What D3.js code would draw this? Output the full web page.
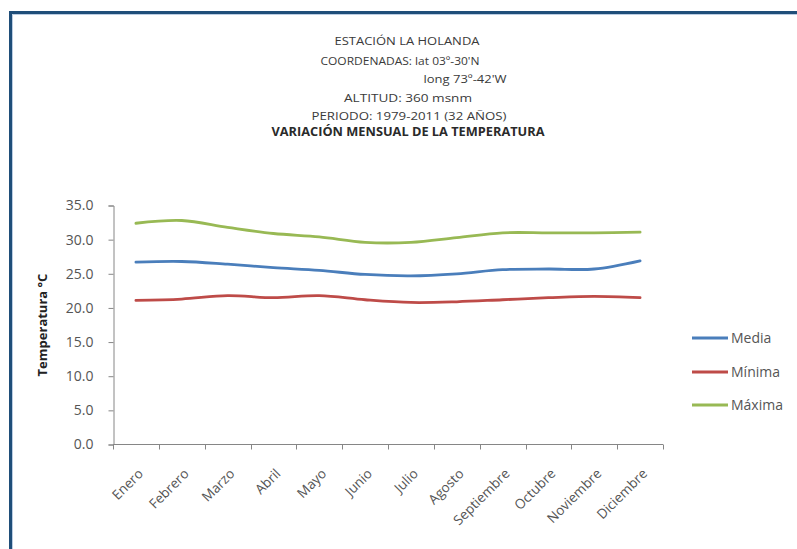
<!DOCTYPE html>
<html>
<head>
<meta charset="utf-8">
<script src="https://cdn.jsdelivr.net/npm/d3@7"></script>
<style>
  html, body { margin: 0; padding: 0; background: #fff; }
  svg { display: block; }
</style>
</head>
<body>
<svg id="chart" width="797" height="549"></svg>
<script>
// Monthly temperature series, station La Holanda
const months = ["Enero", "Febrero", "Marzo", "Abril", "Mayo", "Junio", "Julio",
                "Agosto", "Septiembre", "Octubre", "Noviembre", "Diciembre"];
const media  = [26.7, 26.8, 26.4, 25.9, 25.5, 24.9, 24.7, 25.0, 25.6, 25.7, 25.7, 26.9];
const minima = [21.1, 21.3, 21.8, 21.5, 21.8, 21.2, 20.8, 20.9, 21.2, 21.5, 21.7, 21.5];
const maxima = [32.4, 32.8, 31.8, 30.9, 30.4, 29.6, 29.6, 30.3, 31.0, 31.0, 31.0, 31.1];
const yTicks = [0, 5, 10, 15, 20, 25, 30, 35];
const seriesNames = ["Media", "Mínima", "Máxima"];
const seriesColors = ["#4a7ebb", "#be4b48", "#98b954"];
const titleLines = [
  "ESTACIÓN LA HOLANDA",
  "COORDENADAS: lat 03º-30'N",
  "long 73º-42'W",
  "ALTITUD: 360 msnm",
  "PERIODO: 1979-2011 (32 AÑOS)"
];
const subtitle = "VARIACIÓN MENSUAL DE LA TEMPERATURA";

const series = [media, minima, maxima];
const svg = d3.select("#chart");
const font = "'Open Sans', sans-serif";

// frame
svg.append("path")
  .attr("d", "M10.5,549 L10.5,12.5 L797,12.5")
  .attr("fill", "none").attr("stroke", "#1f4e79").attr("stroke-width", 3);
svg.append("path")
  .attr("d", "M12.5,549 L12.5,14.5 L797,14.5")
  .attr("fill", "none").attr("stroke", "#a9c0da").attr("stroke-width", 0.8);

// title block
const titleY = [41, 61, 79, 98, 116];
const titleX = [407, 400, 465, 408, 409];
const titleW = [145, 159, 83, 128, 195];
titleLines.forEach((t, i) => {
  svg.append("text")
    .attr("x", titleX[i]).attr("y", titleY[i] + 4)
    .attr("text-anchor", "middle")
    .attr("font-family", font).attr("font-size", 11)
    .attr("textLength", titleW[i]).attr("lengthAdjust", "spacingAndGlyphs")
    .attr("fill", "#3a3a3a")
    .text(t);
});
svg.append("text")
  .attr("x", 408).attr("y", 136)
  .attr("text-anchor", "middle")
  .attr("font-family", font).attr("font-size", 11.5).attr("font-weight", "bold")
  .attr("textLength", 273).attr("lengthAdjust", "spacingAndGlyphs")
  .attr("fill", "#2a2a2a")
  .text(subtitle);

// scales
const x = d3.scaleBand().domain(months).range([113, 663]);
const y = d3.scaleLinear().domain([0, 35]).range([444.5, 205.5]);

// y axis
const yAxis = svg.append("g")
  .attr("transform", "translate(113.5,0)")
  .call(d3.axisLeft(y).tickValues(yTicks).tickFormat(d3.format(".1f")).tickSize(5).tickPadding(15));
yAxis.select(".domain").attr("stroke", "#868686");
yAxis.selectAll(".tick line").attr("stroke", "#868686");
yAxis.selectAll("text")
  .attr("font-family", font).attr("font-size", 14).attr("fill", "#555");

// x axis with ticks at category boundaries
const xAxis = svg.append("g").attr("transform", "translate(0,444.5)");
xAxis.append("line")
  .attr("x1", 113).attr("x2", x.range()[1]).attr("stroke", "#868686");
const bounds = months.map(m => x(m)).concat([x.range()[1]]);
xAxis.selectAll("line.tk").data(bounds).join("line")
  .attr("class", "tk")
  .attr("x1", d => Math.round(d) + 0.5).attr("x2", d => Math.round(d) + 0.5)
  .attr("y1", 0).attr("y2", 5).attr("stroke", "#868686");
xAxis.selectAll("text").data(months).join("text")
  .attr("transform", d => `translate(${x(d) + x.bandwidth() / 2 + 8},${30}) rotate(-45)`)
  .attr("text-anchor", "end")
  .attr("font-family", font).attr("font-size", 13.5).attr("fill", "#555")
  .text(d => d);

// y axis title
svg.append("text")
  .attr("transform", "translate(47,325) rotate(-90)")
  .attr("text-anchor", "middle")
  .attr("font-family", font).attr("font-size", 13).attr("font-weight", "bold")
  .attr("fill", "#222")
  .text("Temperatura °C");

// series lines
const line = d3.line()
  .x((d, i) => x(months[i]) + x.bandwidth() / 2)
  .y(d => y(d))
  .curve(d3.curveCatmullRom.alpha(0.5));
series.forEach((s, i) => {
  svg.append("path")
    .datum(s)
    .attr("d", line)
    .attr("fill", "none")
    .attr("stroke", seriesColors[i])
    .attr("stroke-width", 2.8)
    .attr("stroke-linecap", "round");
});

// legend
const legY = [338, 372, 405];
seriesNames.forEach((n, i) => {
  svg.append("line")
    .attr("x1", 692).attr("x2", 728)
    .attr("y1", legY[i]).attr("y2", legY[i])
    .attr("stroke", seriesColors[i]).attr("stroke-width", 2.8);
  svg.append("text")
    .attr("x", 731).attr("y", legY[i] + 5)
    .attr("font-family", font).attr("font-size", 14).attr("fill", "#555")
    .text(n);
});
</script>
</body>
</html>
